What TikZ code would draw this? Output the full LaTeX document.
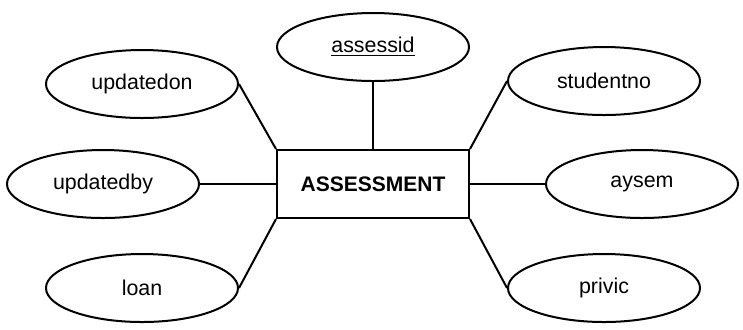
\documentclass[tikz,border=0pt]{standalone}
\usepackage{fontspec}
\setmainfont{Liberation Sans}
\usetikzlibrary{shapes.geometric}
\begin{document}
\begin{tikzpicture}[x=0.5pt,y=-0.5pt,
  attr/.style={draw, ellipse, line width=1pt, minimum width=96pt, minimum height=34pt, inner sep=0pt, font=\fontsize{10.7}{12}\selectfont},
  ent/.style={draw, rectangle, line width=1pt, minimum width=96pt, minimum height=34pt, inner sep=0pt, font=\bfseries\fontsize{10.5}{12}\selectfont},
  conn/.style={line width=1pt}]
\useasboundingbox (0,0) rectangle (743,329);
\node[ent] (e) at (373,184) {ASSESSMENT};
\node[attr] (assessid) at (373,47) {\underline{assessid}};
\node[attr] (updatedon) at (142,84) {updatedon};
\node[attr] (updatedby) at (103,184) {updatedby};
\node[attr] (loan) at (142,288) {loan};
\node[attr] (studentno) at (604,81) {studentno};
\node[attr] (aysem) at (642,184) {aysem};
\node[attr] (privic) at (604,288) {privic};
\draw[conn] (assessid.south) -- (e.north);
\draw[conn] (updatedon.east) -- (e.north west);
\draw[conn] (updatedby.east) -- (e.west);
\draw[conn] (loan.east) -- (e.south west);
\draw[conn] (studentno.west) -- (e.north east);
\draw[conn] (aysem.west) -- (e.east);
\draw[conn] (privic.west) -- (e.south east);
\end{tikzpicture}
\end{document}
